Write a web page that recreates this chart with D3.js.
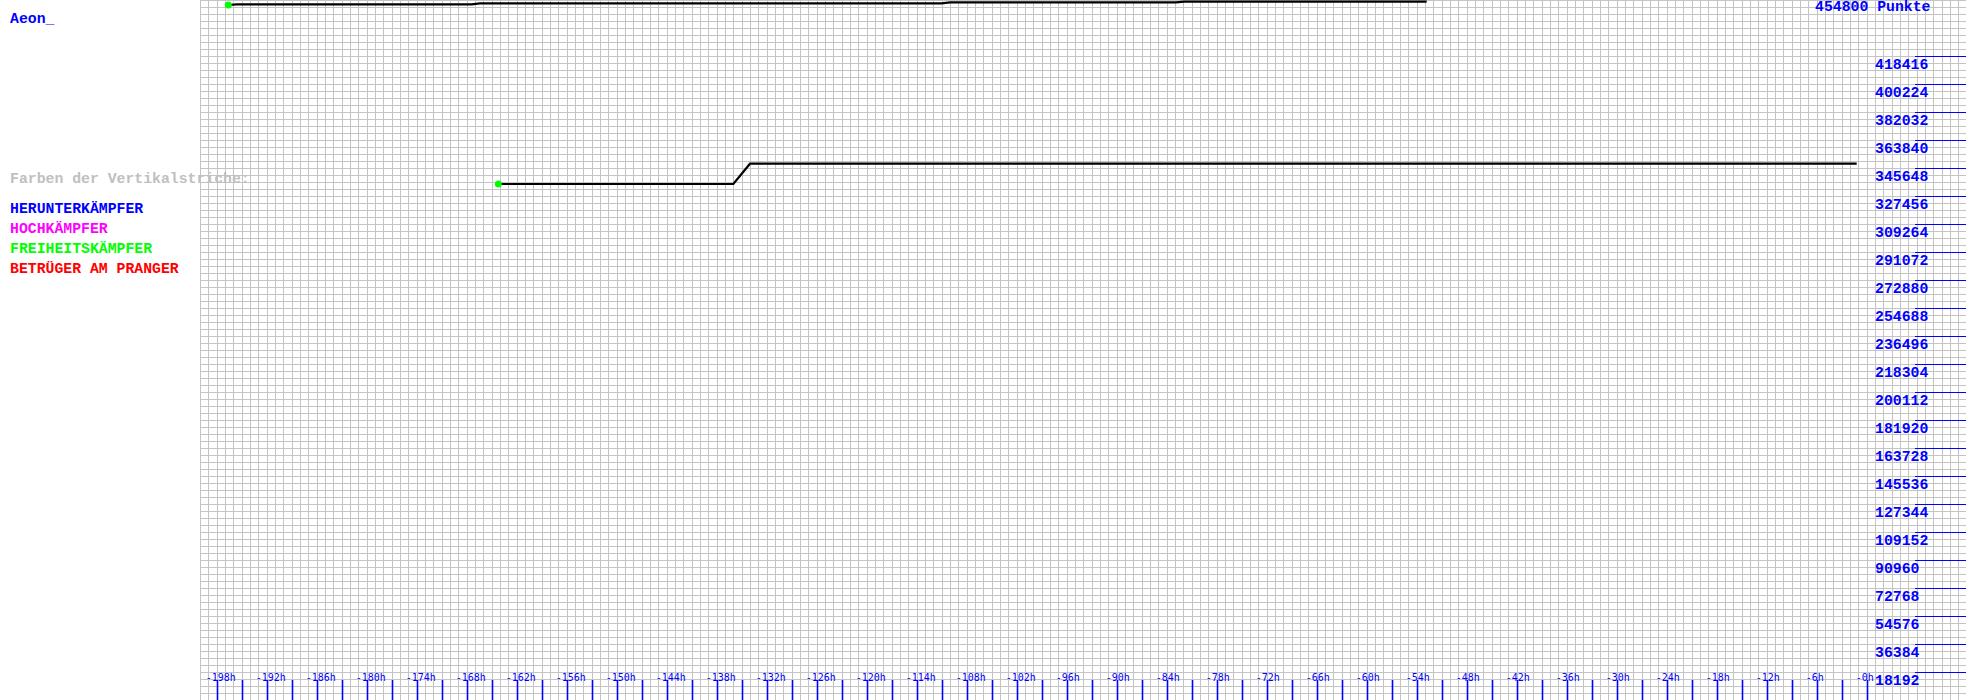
<!DOCTYPE html>
<html>
<head>
<meta charset="utf-8">
<script src="https://cdn.jsdelivr.net/npm/d3@7/dist/d3.min.js"></script>
<style>
  html, body { margin: 0; padding: 0; background: #fff; }
  svg { display: block; }
  text { font-family: "Liberation Mono", "DejaVu Sans Mono", monospace; font-weight: bold; }
</style>
</head>
<body>
<svg id="chart" width="1966" height="700"></svg>
<script>
// ---- data ----
const playerName = "Aeon_";
const maxPoints = 454800;
const legendTitle = "Farben der Vertikalstriche:";
const legendLabels = ["HERUNTERKÄMPFER", "HOCHKÄMPFER", "FREIHEITSKÄMPFER", "BETRÜGER AM PRANGER"];
const legendColors = ["#0000ff", "#ff00ff", "#00ff00", "#ff0000"];

// series 1 (top line): hours before now, points
const topHours  = [-196.6, -195.6, -167.4, -166.4, -111.0, -110.0, -82.9, -81.9, -52.8];
const topValues = [451550, 452000, 452000, 452600, 452600, 453300, 453300, 453800, 453800];

// series 2
const lowHours  = [-164.2, -136.0, -134.0, -1.2];
const lowValues = [335250, 335250, 348450, 348450];

// axis tick labels
const yTickValues = [18192, 36384, 54576, 72768, 90960, 109152, 127344, 145536, 163728, 181920,
  200112, 218304, 236496, 254688, 272880, 291072, 309264, 327456, 345648, 363840, 382032, 400224, 418416];
const xTickHours = [-198, -195, -192, -189, -186, -183, -180, -177, -174, -171, -168, -165, -162, -159,
  -156, -153, -150, -147, -144, -141, -138, -135, -132, -129, -126, -123, -120, -117, -114, -111,
  -108, -105, -102, -99, -96, -93, -90, -87, -84, -81, -78, -75, -72, -69, -66, -63, -60, -57,
  -54, -51, -48, -45, -42, -39, -36, -33, -30, -27, -24, -21, -18, -15, -12, -9, -6, -3, 0];
const xLabelHours = [-198, -192, -186, -180, -174, -168, -162, -156, -150, -144, -138, -132, -126,
  -120, -114, -108, -102, -96, -90, -84, -78, -72, -66, -60, -54, -48, -42, -36, -30, -24, -18, -12, -6, 0];
const gridStepValue = 4548;

// ---- layout ----
const W = 1966, H = 700;
const svg = d3.select("#chart");
const x = d3.scaleLinear().domain([-200, 12]).range([200, 200 + 212 * 25 / 3]);
const y = d3.scaleLinear().domain([0, maxPoints]).range([H, 0]);

// grid
const grid = svg.append("g").attr("shape-rendering", "crispEdges").attr("stroke", "#c4c4c4").attr("stroke-width", 1);
grid.selectAll("line.v").data(d3.range(-200, 13, 1)).join("line")
  .attr("class", "v")
  .attr("x1", d => Math.round(x(d)) + 0.5).attr("x2", d => Math.round(x(d)) + 0.5)
  .attr("y1", 0).attr("y2", H);
grid.selectAll("line.h").data(d3.range(0, maxPoints + 1, gridStepValue)).join("line")
  .attr("class", "h")
  .attr("x1", 200).attr("x2", W)
  .attr("y1", d => Math.round(y(d)) + 0.5).attr("y2", d => Math.round(y(d)) + 0.5);

// x ticks
const blue = "#0000ff";
svg.append("g")
  .selectAll("line").data(xTickHours).join("line")
  .attr("x1", d => Math.round(x(d)) + 0.5).attr("x2", d => Math.round(x(d)) + 0.5)
  .attr("y1", 680).attr("y2", H)
  .attr("stroke", blue).attr("stroke-width", 1.6);
svg.append("g").selectAll("text").data(xLabelHours).join("text")
  .attr("x", d => x(d) - 11).attr("y", 681)
  .attr("fill", blue).attr("font-size", "10px")
  .style("font-family", "'DejaVu Sans Mono', monospace").style("font-weight", "normal")
  .text(d => "-" + Math.abs(d) + "h");

// y ticks (right side)
svg.append("g").attr("shape-rendering", "crispEdges")
  .selectAll("line").data(yTickValues).join("line")
  .attr("x1", 1915).attr("x2", W)
  .attr("y1", d => Math.round(y(d)) + 0.5).attr("y2", d => Math.round(y(d)) + 0.5)
  .attr("stroke", blue).attr("stroke-width", 1.2);
svg.append("g").selectAll("text").data(yTickValues).join("text")
  .attr("x", 1875).attr("y", d => y(d) + 12.5)
  .attr("fill", blue).attr("font-size", "14.8px")
  .text(d => d);
svg.append("text").attr("x", 1815).attr("y", 11)
  .attr("fill", blue).attr("font-size", "14.8px")
  .text(maxPoints + " Punkte");

// left panel texts
svg.append("text").attr("x", 10).attr("y", 22.5).attr("fill", blue).attr("font-size", "14.8px").text(playerName);
svg.append("text").attr("x", 10).attr("y", 183.3).attr("fill", "#c0c0c0").attr("font-size", "14.8px").text(legendTitle);
svg.append("g").selectAll("text").data(legendLabels).join("text")
  .attr("x", 10).attr("y", (d, i) => 212.7 + i * 20)
  .attr("fill", (d, i) => legendColors[i]).attr("font-size", "14.8px")
  .text(d => d);

// lines
const line = d3.line().x(d => x(d[0])).y(d => y(d[1]));
const series = [d3.zip(topHours, topValues), d3.zip(lowHours, lowValues)];
svg.append("g").selectAll("path").data(series).join("path")
  .attr("d", line).attr("fill", "none").attr("stroke", "#000").attr("stroke-width", 2.2);
svg.append("g").selectAll("circle").data(series).join("circle")
  .attr("cx", d => x(d[0][0])).attr("cy", d => y(d[0][1])).attr("r", 3.5)
  .attr("fill", "#00ff00");
</script>
</body>
</html>
